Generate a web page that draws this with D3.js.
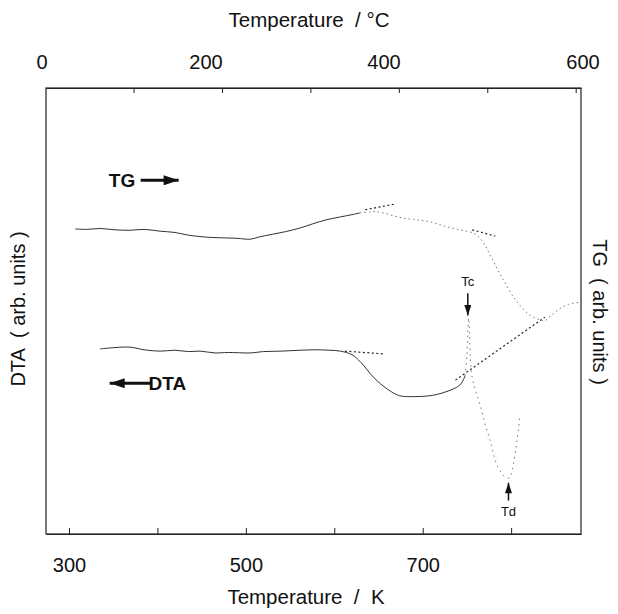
<!DOCTYPE html>
<html>
<head>
<meta charset="utf-8">
<script src="https://cdn.jsdelivr.net/npm/d3@7"></script>
<style>
  body { margin: 0; background: #fff; }
  text { font-family: "Liberation Sans", Arial, sans-serif; fill: #111; white-space: pre; }
  .axis path, .axis line { stroke: #222; }
</style>
</head>
<body>
<div class="chart"></div>
<script>
// temperature in K, signal in arbitrary units (0-100)
var tgSolid = [[307,68.4],[320,68.3],[335,68.5],[352,68.2],[369,68.1],[385,68.3],[403,67.9],[420,67.6],
               [435,67.0],[448,66.7],[460,66.5],[475,66.4],[490,66.3],[505,66.1],[515,66.6],[530,67.2],
               [545,67.8],[561,68.6],[575,69.5],[590,70.4],[607,71.1],[620,71.6],[629,72.0]];
var tgFaint = [[629,72.0],[640,72.2],[646,72.3],[655,72.0],[674,71.0],[690,70.5],[708,70.0],[725,69.0],
               [742,68.2],[759,67.3],[768,65.5],[776,62.6],[788,58.1],[805,52.5],[821,49.1],[833,48.0],
               [838,47.8],[845,49.0],[855,50.5],[865,51.5],[879,52.0]];
var dtaSolid = [[335,41.5],[352,41.8],[369,41.9],[385,41.3],[403,41.0],[420,41.2],[435,40.9],[448,41.0],
                [465,40.6],[480,40.7],[505,40.6],[520,40.9],[540,41.0],[561,41.2],[580,41.3],[595,41.2],
                [607,41.0],[620,40.2],[630,38.5],[645,35.0],[660,32.5],[674,31.0],[690,30.8],[708,31.0],
                [725,31.8],[742,33.4],[748,35.5]];
var dtaFaint = [[748,35.5],[750,40.0],[751,45.0],[752,48.4],[753,45.0],[754,39.0],[756,35.0],[760,32.0],
                [765,28.9],[770,25.0],[776,21.1],[784,15.5],[793,12.8],[798,12.6],[801,14.3],[806,20.0],
                [810,26.7]];
// extrapolation (tangent) lines
var tangents = [
  [[635,72.7],[669,74.0]],
  [[756,68.2],[782,66.8]],
  [[612,41.0],[655,40.4]],
  [[737,34.5],[838,48.6]]
];

var kTicks = [300,400,500,600,700,800],
    kLabels = [300,500,700],
    cTicks = [100,200,300,400,500,600],
    cLabels = [0,200,400,600];

var margin = {top: 88, right: 37, bottom: 80, left: 46},
    width = 618 - margin.left - margin.right,
    height = 614 - margin.top - margin.bottom;

var svg = d3.select(".chart")
  .append("svg")
    .attr("width", 618)
    .attr("height", 614)
  .append("g")
    .attr("transform", "translate(" + margin.left + "," + margin.top + ")");

var x = d3.scaleLinear().domain([274, 879]).range([0, width]);
var xC = d3.scaleLinear().domain([274 - 273, 879 - 273]).range([0, width]);
// the printed celsius labels are not evenly spaced in the original
var xCl = d3.scaleLinear().domain(cLabels).range([-4, 160, 338, 537]);
var y = d3.scaleLinear().domain([0, 100]).range([height, 0]);

var defs = svg.append("defs");
defs.append("marker")
    .attr("id", "head")
    .attr("viewBox", "0 0 12 8")
    .attr("refX", 12).attr("refY", 4)
    .attr("markerUnits", "userSpaceOnUse")
    .attr("markerWidth", 19).attr("markerHeight", 10)
    .attr("orient", "auto")
  .append("path")
    .attr("d", "M0,0L12,4L0,8Z")
    .attr("fill", "#111");
defs.append("marker")
    .attr("id", "headSmall")
    .attr("viewBox", "0 0 12 8")
    .attr("refX", 12).attr("refY", 4)
    .attr("markerUnits", "userSpaceOnUse")
    .attr("markerWidth", 14).attr("markerHeight", 7)
    .attr("orient", "auto")
  .append("path")
    .attr("d", "M0,0L12,4L0,8Z")
    .attr("fill", "#111");

// frame
svg.append("rect")
    .attr("width", width)
    .attr("height", height)
    .attr("fill", "none")
    .attr("stroke", "#222")
    .attr("stroke-width", 1.2);

// axes
svg.append("g")
    .attr("class", "axis")
    .attr("transform", "translate(0," + height + ")")
    .call(d3.axisBottom(x).tickValues(kTicks).tickSizeInner(-6).tickSizeOuter(0).tickPadding(24)
          .tickFormat(function(d) { return kLabels.indexOf(d) >= 0 ? d : ""; }))
    .call(function(g) { g.selectAll("text").attr("font-size", "20px"); });

svg.append("g")
    .attr("class", "axis")
    .call(d3.axisTop(xC).tickValues(cTicks).tickSizeInner(-5).tickSizeOuter(0).tickFormat(""));

svg.append("g")
    .attr("class", "top-labels")
    .selectAll("text")
    .data(cLabels)
    .enter()
  .append("text")
    .attr("x", function(d) { return xCl(d); })
    .attr("y", -19)
    .attr("text-anchor", "middle")
    .attr("font-size", "20px")
    .text(function(d) { return d; });

svg.selectAll(".axis text").attr("font-family", "Liberation Sans, Arial, sans-serif").attr("fill", "#111");

// axis titles
svg.append("text")
    .attr("x", 263).attr("y", -61)
    .attr("text-anchor", "middle")
    .attr("font-size", "20.5px")
    .text("Temperature  / °C");

svg.append("text")
    .attr("x", 260).attr("y", height + 70)
    .attr("text-anchor", "middle")
    .attr("font-size", "20.5px")
    .text("Temperature  /  K");

svg.append("text")
    .attr("transform", "translate(-21," + (height / 2 - 2) + ") rotate(-90)")
    .attr("text-anchor", "middle")
    .attr("font-size", "20px")
    .text("DTA  ( arb. units )");

svg.append("text")
    .attr("transform", "translate(" + (width + 12) + "," + (height / 2 + 1) + ") rotate(90)")
    .attr("text-anchor", "middle")
    .attr("font-size", "20px")
    .text("TG  ( arb. units )");

// curves
var line = d3.line()
    .x(function(d) { return x(d[0]); })
    .y(function(d) { return y(d[1]); })
    .curve(d3.curveCatmullRom);

svg.append("path")
    .datum(tgSolid)
    .attr("fill", "none")
    .attr("stroke", "#333")
    .attr("stroke-width", 1)
    .attr("d", line);

svg.append("path")
    .datum(tgFaint)
    .attr("fill", "none")
    .attr("stroke", "#777")
    .attr("stroke-width", 1)
    .attr("stroke-dasharray", "1.5,3")
    .attr("d", line);

svg.append("path")
    .datum(dtaSolid)
    .attr("fill", "none")
    .attr("stroke", "#333")
    .attr("stroke-width", 1)
    .attr("d", line);

svg.append("path")
    .datum(dtaFaint)
    .attr("fill", "none")
    .attr("stroke", "#777")
    .attr("stroke-width", 1)
    .attr("stroke-dasharray", "1.5,4")
    .attr("d", line);

svg.selectAll(".tangent")
    .data(tangents)
    .enter()
  .append("path")
    .attr("class", "tangent")
    .attr("fill", "none")
    .attr("stroke", "#222")
    .attr("stroke-width", 1.2)
    .attr("stroke-dasharray", "2,2.5")
    .attr("d", d3.line()
        .x(function(d) { return x(d[0]); })
        .y(function(d) { return y(d[1]); }));

// curve labels with arrows
svg.append("text")
    .attr("x", x(345)).attr("y", y(79.3) + 7)
    .attr("font-size", "19px")
    .attr("font-weight", "bold")
    .text("TG");
svg.append("line")
    .attr("x1", x(381)).attr("y1", y(79.3))
    .attr("x2", x(424)).attr("y2", y(79.3))
    .attr("stroke", "#111").attr("stroke-width", 3)
    .attr("marker-end", "url(#head)");

svg.append("text")
    .attr("x", x(390)).attr("y", y(33.8) + 7)
    .attr("font-size", "19px")
    .attr("font-weight", "bold")
    .text("DTA");
svg.append("line")
    .attr("x1", x(392)).attr("y1", y(33.8))
    .attr("x2", x(346)).attr("y2", y(33.8))
    .attr("stroke", "#111").attr("stroke-width", 3)
    .attr("marker-end", "url(#head)");

// Tc and Td markers
svg.append("text")
    .attr("x", x(751)).attr("y", y(55.5))
    .attr("text-anchor", "middle")
    .attr("font-size", "13px")
    .text("Tc");
svg.append("line")
    .attr("x1", x(751)).attr("y1", y(54.0))
    .attr("x2", x(751)).attr("y2", y(49.0))
    .attr("stroke", "#111").attr("stroke-width", 1.5)
    .attr("marker-end", "url(#headSmall)");

svg.append("text")
    .attr("x", x(797)).attr("y", y(4.0))
    .attr("text-anchor", "middle")
    .attr("font-size", "13px")
    .text("Td");
svg.append("line")
    .attr("x1", x(797)).attr("y1", y(7.5))
    .attr("x2", x(797)).attr("y2", y(11.5))
    .attr("stroke", "#111").attr("stroke-width", 1.5)
    .attr("marker-end", "url(#headSmall)");
</script>
</body>
</html>
